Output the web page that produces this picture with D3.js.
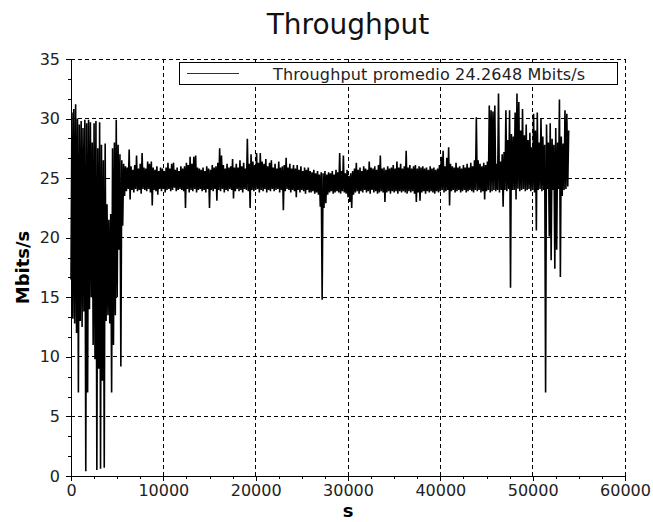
<!DOCTYPE html>
<html>
<head>
<meta charset="utf-8">
<script src="https://cdn.jsdelivr.net/npm/d3@7/dist/d3.min.js"></script>
<style>
  body { margin: 0; background: #fff; }
  svg { display: block; }
  text { font-family: "DejaVu Sans", Verdana, sans-serif; }
</style>
</head>
<body>
<svg id="chart" width="653" height="522"></svg>
<script>
// Throughput samples, summarised per 200 s bin as the lowest and highest value seen (Mbits/s)
const binSeconds = 200;

const throughputHigh = [
  30.5, 30.8, 31.2, 30.0, 29.5, 29.8, 29.2, 29.9, 29.6, 29.9,
  29.7, 28.0, 29.6, 29.8, 27.5, 29.7, 27.8, 26.5, 27.9, 22.8,
  21.5, 22.0, 27.5, 28.0, 29.9, 27.8, 27.0, 26.5, 26.2, 26.0,
  25.9, 27.4, 26.0, 25.7, 26.1, 26.9, 25.8, 26.2, 27.1, 25.9,
  25.8, 26.4, 26.2, 26.4, 25.9, 25.7, 26.0, 25.6, 25.9, 25.8,
  25.6, 25.9, 26.3, 25.8, 26.2, 26.3, 25.7, 25.9, 25.6, 26.0,
  25.8, 26.0, 26.3, 26.1, 26.8, 26.2, 26.8, 26.9, 25.9, 25.8,
  25.7, 25.9, 25.6, 26.0, 25.8, 25.7, 26.1, 25.9, 26.0, 26.3,
  27.5, 26.9, 26.1, 25.8, 26.2, 25.9, 26.0, 26.6, 25.9, 26.2,
  25.9, 26.5, 26.0, 26.3, 25.8, 28.3, 26.2, 27.0, 26.4, 26.1,
  27.1, 26.3, 27.1, 26.4, 26.2, 26.6, 26.0, 26.3, 26.5, 25.9,
  26.2, 25.8, 26.4, 25.9, 26.0, 26.1, 26.7, 25.9, 26.2, 25.8,
  26.1, 25.8, 26.1, 25.7, 26.0, 25.6, 25.9, 25.7, 25.9, 25.6,
  25.5, 25.7, 25.4, 25.6, 25.3, 25.5, 25.4, 25.6, 25.3, 25.5,
  25.4, 25.6, 25.3, 25.7, 25.5, 27.1, 25.6, 26.9, 25.4, 25.7,
  25.2, 25.4, 25.6, 25.8, 26.3, 25.7, 25.9, 25.6, 26.0, 25.8,
  25.7, 26.4, 25.9, 25.8, 26.0, 25.7, 26.1, 26.9, 25.8, 25.9,
  25.7, 26.0, 25.8, 25.9, 26.1, 25.8, 26.4, 25.9, 26.2, 25.8,
  26.0, 27.3, 25.9, 26.1, 25.8, 26.0, 26.1, 25.8, 26.0, 25.9,
  26.0, 25.8, 25.9, 25.7, 26.0, 25.8, 25.9, 25.7, 25.8, 26.1,
  26.8, 27.3, 26.0, 26.7, 27.6, 26.2, 26.0, 25.9, 26.3, 25.9,
  26.0, 25.8, 26.1, 25.9, 26.2, 25.9, 26.3, 26.0, 26.5, 30.1,
  26.5, 26.2, 26.0, 26.3, 26.1, 26.4, 31.1, 30.7, 30.6, 31.1,
  26.2, 32.1, 26.4, 27.0, 27.2, 30.7, 28.2, 30.7, 28.7, 28.5,
  30.5, 32.1, 31.4, 29.0, 30.8, 28.6, 29.5, 28.2, 28.8, 27.6,
  30.4, 29.0, 30.5, 28.0, 30.0, 28.5, 27.8, 29.5, 28.0, 29.6,
  28.3, 27.8, 29.2, 28.0, 31.6, 28.5, 27.9, 30.7, 30.4, 29.0
];

const throughputLow = [
  16.5, 13.2, 12.8, 12.0,  7.0, 13.0, 12.5, 13.8,  0.4,  7.0,
  14.0, 15.0, 11.0,  9.8,  0.5,  9.0,  0.6,  8.0,  0.7, 13.0,
  13.5, 12.8,  7.0, 11.0, 13.5, 15.0, 19.0,  9.2, 21.0, 23.5,
  23.9, 24.1, 23.2, 24.0, 23.8, 24.1, 23.9, 24.0, 23.7, 24.1,
  24.0, 23.9, 24.1, 23.8, 22.7, 24.0, 23.9, 23.6, 24.1, 23.9,
  24.1, 23.8, 24.0, 24.1, 23.9, 24.0, 24.2, 23.9, 24.0, 24.1,
  24.0, 23.9, 22.5, 24.1, 23.8, 24.0, 23.9, 24.1, 23.8, 24.0,
  24.1, 23.9, 24.0, 23.8, 24.1, 22.5, 24.0, 23.9, 24.1, 23.1,
  24.0, 23.9, 24.1, 23.8, 24.0, 23.9, 24.1, 24.0, 23.3, 23.9,
  24.1, 23.9, 24.0, 23.8, 24.1, 24.0, 23.9, 22.5, 24.0, 23.9,
  24.0, 24.1, 23.8, 24.0, 23.9, 24.1, 23.8, 24.0, 23.9, 24.1,
  23.9, 24.0, 24.1, 23.8, 24.0, 22.3, 23.9, 24.1, 24.0, 23.8,
  24.0, 23.9, 23.4, 24.0, 23.8, 24.0, 23.9, 23.7, 24.0, 23.8,
  23.8, 23.9, 23.7, 23.8, 23.6, 22.6, 14.8, 22.5, 22.9, 23.6,
  23.8, 23.9, 23.7, 23.8, 23.9, 23.8, 23.7, 23.9, 23.8, 23.7,
  23.4, 23.0, 22.5, 23.6, 23.8, 23.9, 23.7, 23.9, 23.8, 24.0,
  23.8, 23.9, 23.7, 24.0, 23.8, 23.9, 23.7, 23.8, 23.9, 23.8,
  23.0, 23.8, 23.9, 23.7, 23.9, 23.8, 23.9, 23.7, 23.9, 23.8,
  23.9, 23.8, 23.7, 23.9, 23.8, 23.9, 23.7, 23.0, 23.8, 23.1,
  23.8, 23.9, 23.7, 23.9, 23.8, 23.9, 23.8, 23.7, 23.9, 23.8,
  23.9, 24.0, 23.8, 23.9, 24.0, 22.7, 23.9, 24.0, 23.8, 23.9,
  24.0, 23.8, 23.9, 24.0, 23.8, 23.9, 24.0, 23.9, 23.8, 24.0,
  23.9, 24.0, 23.8, 23.9, 23.2, 23.9, 24.0, 23.8, 23.9, 24.0,
  23.9, 24.0, 23.8, 24.0, 22.6, 24.0, 23.9, 24.1, 15.8, 24.0,
  24.0, 23.2, 24.1, 23.9, 24.0, 24.1, 23.9, 24.0, 24.1, 23.9,
  24.0, 23.8, 20.6, 24.0, 24.1, 23.9, 24.0,  7.0, 24.1, 20.1,
  18.1, 24.0, 17.4, 19.0, 24.1, 16.7, 23.5, 24.0, 24.1, 24.3
];

const xTicks = [0, 10000, 20000, 30000, 40000, 50000, 60000];
const xMinorTicks = d3.range(0, 60001, 2500);
const yTicks = [0, 5, 10, 15, 20, 25, 30, 35];
const yMinorTicks = d3.range(0, 36, 5 / 3);

const chartTitle = "Throughput";
const xTitle = "s";
const yTitle = "Mbits/s";
const legendLabel = "Throughput promedio 24.2648 Mbits/s";

const svg = d3.select("#chart");
const plotLeft = 71, plotRight = 625, plotTop = 59, plotBottom = 476;

const x = d3.scaleLinear().domain([0, 60000]).range([plotLeft, plotRight]);
const y = d3.scaleLinear().domain([0, 35]).range([plotBottom, plotTop]);

// dashed grid, one line per major tick (the last ones close the frame)
const grid = svg.append("g").attr("stroke", "#000").attr("stroke-width", 1)
  .attr("stroke-dasharray", "4,3").attr("shape-rendering", "crispEdges");
grid.selectAll("line.v").data(xTicks.slice(1)).join("line")
  .attr("x1", d => x(d)).attr("x2", d => x(d))
  .attr("y1", y(0)).attr("y2", y(35));
grid.selectAll("line.h").data(yTicks.slice(1)).join("line")
  .attr("x1", x(0)).attr("x2", x(60000))
  .attr("y1", d => y(d)).attr("y2", d => y(d));

// series: within each bin the trace swings from its low to its high value
const pts = [];
throughputLow.forEach((lo, i) => {
  const t = i * binSeconds;
  pts.push([t, lo]);
  pts.push([t + binSeconds / 2, throughputHigh[i]]);
});
const line = d3.line().x(d => x(d[0])).y(d => y(d[1]));
svg.append("path").datum(pts)
  .attr("d", line)
  .attr("fill", "none")
  .attr("stroke", "#000")
  .attr("stroke-width", 1.6)
  .attr("stroke-linejoin", "bevel");

// axes
const tickFont = g => g.selectAll("text")
  .attr("font-size", 16).attr("fill", "#222")
  .attr("font-family", "\"DejaVu Sans\", Verdana, sans-serif");

svg.append("g").attr("transform", `translate(0,${plotBottom})`)
  .call(d3.axisBottom(x).tickValues(xTicks).tickFormat(d3.format("d"))
    .tickSize(5).tickSizeOuter(0).tickPadding(4))
  .call(tickFont);
svg.append("g").attr("transform", `translate(0,${plotBottom})`)
  .call(d3.axisBottom(x).tickValues(xMinorTicks).tickFormat("")
    .tickSize(3).tickSizeOuter(0))
  .call(g => g.select(".domain").remove());

svg.append("g").attr("transform", `translate(${plotLeft},0)`)
  .call(d3.axisLeft(y).tickValues(yTicks).tickFormat(d3.format("d"))
    .tickSize(5).tickSizeOuter(0).tickPadding(6))
  .call(tickFont);
svg.append("g").attr("transform", `translate(${plotLeft},0)`)
  .call(d3.axisLeft(y).tickValues(yMinorTicks).tickFormat("")
    .tickSize(3).tickSizeOuter(0))
  .call(g => g.select(".domain").remove());

svg.selectAll(".domain, .tick line").attr("shape-rendering", "crispEdges");

// titles
svg.append("text").attr("x", (plotLeft + plotRight) / 2).attr("y", 34)
  .attr("text-anchor", "middle").attr("font-size", 28).attr("fill", "#111")
  .text(chartTitle);
svg.append("text").attr("x", (plotLeft + plotRight) / 2).attr("y", 517)
  .attr("text-anchor", "middle").attr("font-size", 18).attr("font-weight", "bold")
  .text(xTitle);
svg.append("text")
  .attr("transform", `translate(29,${(plotTop + plotBottom) / 2}) rotate(-90)`)
  .attr("text-anchor", "middle").attr("font-size", 18).attr("font-weight", "bold")
  .text(yTitle);

// legend
const legend = svg.append("g");
legend.append("rect").attr("x", 179.5).attr("y", 62.5).attr("width", 438).attr("height", 22)
  .attr("fill", "#fff").attr("stroke", "#000").attr("stroke-width", 1);
legend.append("line").attr("x1", 187).attr("x2", 239).attr("y1", 73.5).attr("y2", 73.5)
  .attr("stroke", "#333").attr("stroke-width", 1);
legend.append("text").attr("x", 273).attr("y", 79.5)
  .attr("font-size", 16).attr("fill", "#222").attr("letter-spacing", 0.15)
  .text(legendLabel);
</script>
</body>
</html>
